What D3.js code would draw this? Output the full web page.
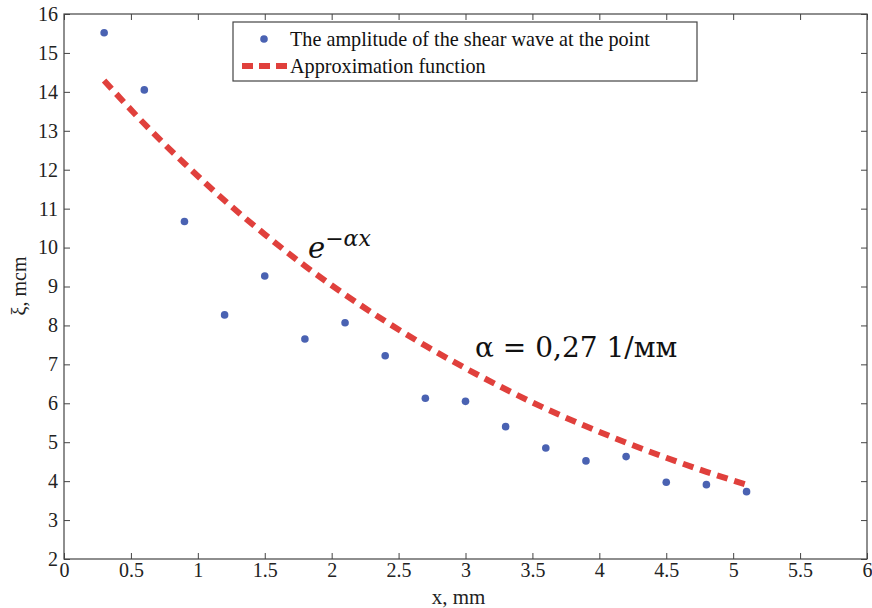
<!DOCTYPE html>
<html><head><meta charset="utf-8">
<script src="https://cdn.jsdelivr.net/npm/d3@7"></script>
<style>body{margin:0;background:#fff}svg{display:block}</style>
</head><body>
<svg id="c" width="872" height="608"></svg>
<script>
const xPos = [0.3,0.6,0.9,1.2,1.5,1.8,2.1,2.4,2.7,3.0,3.3,3.6,3.9,4.2,4.5,4.8,5.1];
const amplitude = [15.52,14.05,10.67,8.27,9.27,7.65,8.07,7.22,6.13,6.05,5.40,4.85,4.52,4.63,3.97,3.91,3.73];
const approx = [14.29,13.18,12.16,11.21,10.34,9.53,8.79,8.11,7.48,6.90,6.36,5.86,5.41,4.99,4.60,4.24,3.91];
const xTicks = [0,0.5,1,1.5,2,2.5,3,3.5,4,4.5,5,5.5,6];
const yTicks = [2,3,4,5,6,7,8,9,10,11,12,13,14,15,16];
const legendLabels = ["The amplitude of the shear wave at the point","Approximation function"];

const svg = d3.select("#c");
const L=64,R=867,T=14,B=559;
const x = d3.scaleLinear().domain([0,6]).range([L,R]);
const y = d3.scaleLinear().domain([2,16]).range([B,T]);
const font = "'Liberation Serif','Times New Roman',serif";
const axCol = "#444";

function styleAxis(g){
  g.select(".domain").remove();
  g.selectAll("line").attr("stroke",axCol).attr("stroke-width",1);
  g.selectAll("text").attr("font-family",font).attr("font-size",20).attr("fill","#222");
}
// bottom
svg.append("g").attr("transform",`translate(0,${B})`)
  .call(d3.axisBottom(x).tickValues(xTicks).tickSize(-6).tickPadding(4).tickFormat(d3.format("~g")))
  .call(styleAxis);
// top
svg.append("g").attr("transform",`translate(0,${T})`)
  .call(d3.axisTop(x).tickValues(xTicks).tickSize(-6).tickFormat(""))
  .call(styleAxis);
// left
svg.append("g").attr("transform",`translate(${L},0)`)
  .call(d3.axisLeft(y).tickValues(yTicks).tickSize(-6).tickPadding(6).tickFormat(d3.format("d")))
  .call(styleAxis);
// right
svg.append("g").attr("transform",`translate(${R},0)`)
  .call(d3.axisRight(y).tickValues(yTicks).tickSize(-6).tickFormat(""))
  .call(styleAxis);
// box
svg.append("rect").attr("x",L).attr("y",T).attr("width",R-L).attr("height",B-T)
  .attr("fill","none").attr("stroke",axCol).attr("stroke-width",1.2);

// curve
const line = d3.line().x((d,i)=>x(xPos[i])).y(d=>y(d)).curve(d3.curveMonotoneX);
svg.append("path").datum(approx).attr("d",line).attr("fill","none")
  .attr("stroke","#e0403c").attr("stroke-width",6).attr("stroke-dasharray","11,7");

// points
svg.append("g").selectAll("circle").data(amplitude).join("circle")
  .attr("cx",(d,i)=>x(xPos[i])).attr("cy",d=>y(d)).attr("r",3.8).attr("fill","#4a62b2");

// legend
const lg = svg.append("g");
lg.append("rect").attr("x",233).attr("y",22).attr("width",464).attr("height",59)
  .attr("fill","#fff").attr("stroke",axCol).attr("stroke-width",1.2);
lg.append("circle").attr("cx",264).attr("cy",39).attr("r",3.8).attr("fill","#4a62b2");
lg.append("line").attr("x1",242).attr("x2",287).attr("y1",66).attr("y2",66)
  .attr("stroke","#e0403c").attr("stroke-width",6).attr("stroke-dasharray","11,6");
lg.selectAll("text.l").data(legendLabels).join("text").attr("class","l")
  .attr("x",290).attr("y",(d,i)=>46+i*27).text(d=>d)
  .attr("font-family",font).attr("font-size",20.2).attr("fill","#111");

// annotations
const ann = svg.append("text").attr("x",308).attr("y",258)
  .attr("font-family","'DejaVu Serif','Liberation Serif',serif").attr("font-size",29).attr("font-style","italic").attr("fill","#111");
ann.append("tspan").text("e");
ann.append("tspan").attr("dy",-12).attr("font-size",22).text("−αx");
svg.append("text").attr("x",475).attr("y",357).text("α = 0,27 1/мм")
  .attr("font-family","'DejaVu Serif','Liberation Serif',serif").attr("font-size",28).attr("fill","#111");

// axis titles
svg.append("text").attr("x",x(3)+-7).attr("y",604).attr("text-anchor","middle").text("x, mm")
  .attr("font-family",font).attr("font-size",21).attr("fill","#222");
svg.append("text").attr("transform","translate(26,286) rotate(-90)").attr("text-anchor","middle").text("ξ, mcm")
  .attr("font-family",font).attr("font-size",20).attr("fill","#222");
</script>
</body></html>
